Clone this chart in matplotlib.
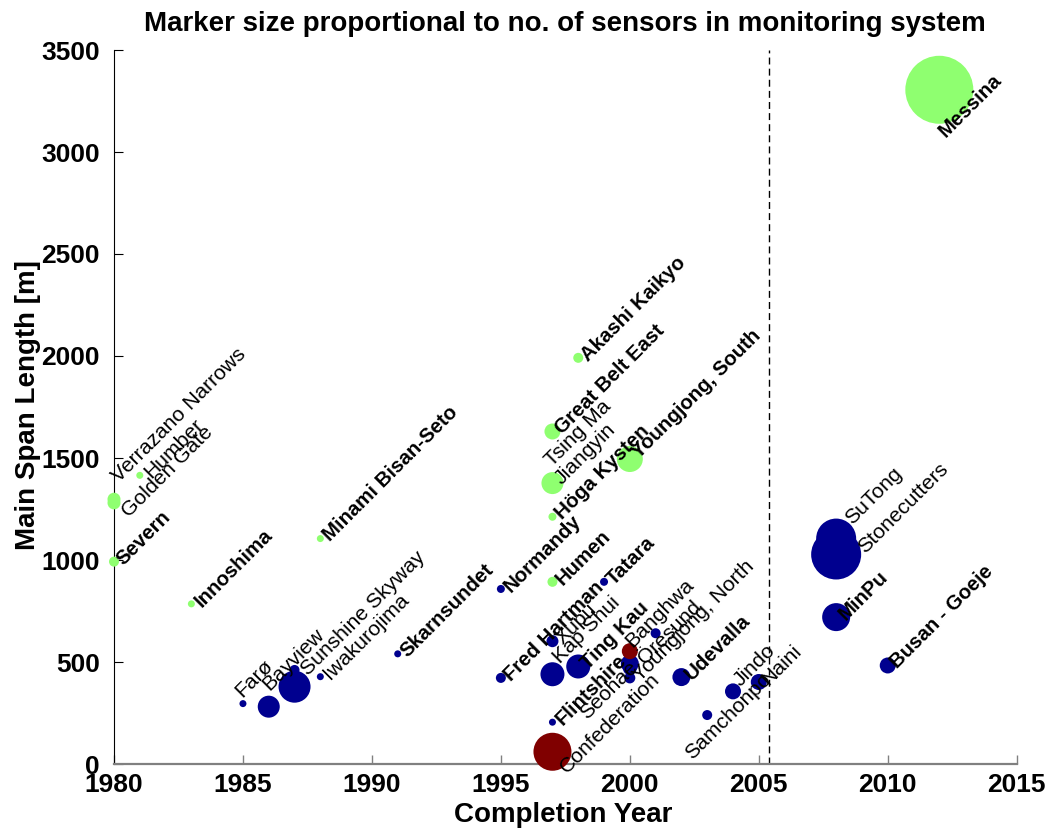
import numpy as np
import matplotlib
matplotlib.use("Agg")
import matplotlib.pyplot as plt

plt.rcParams['font.family'] = ['Liberation Sans', 'DejaVu Sans']

# ---------------- data ----------------
names = ["Verrazano Narrows", "Golden Gate", "Humber", "Severn", "Innoshima",
         "Minami Bisan-Seto", "Akashi Kaikyo", "Great Belt East", "Tsing Ma",
         "Jiangyin", "Höga Kysten", "Humen", "Youngjong, South", "Messina",
         "Farø", "Bayview", "Sunshine Skyway", "", "Iwakurojima", "Skarnsundet",
         "Normandy", "Fred Hartman", "Xupu", "Kap Shui", "Flintshire", "Ting Kau",
         "Tatara", "Öresund", "Seohae", "Youngjong, North", "", "Udevalla",
         "Samchonpo", "Jindo", "Naini", "SuTong", "Stonecutters", "MinPu",
         "Busan - Goeje",
         "Confederation", "Banghwa"]

years = [1980, 1980, 1981, 1980, 1983,
         1988, 1998, 1997, 1997,
         1997, 1997, 1997, 2000, 2012,
         1985, 1986, 1987, 1987, 1988, 1991,
         1995, 1995, 1997, 1997, 1997, 1998,
         1999, 2000, 2000, 2000, 2001, 2002,
         2003, 2004, 2005, 2008, 2008, 2008,
         2010,
         1997, 2000]

spans = [1298, 1280, 1415, 992, 785,
         1105, 1991, 1630, 1377,
         1385, 1212, 893, 1495, 3305,
         296, 281, 379, 461, 428, 540,
         858, 422, 602, 440, 205, 478,
         893, 492, 470, 422, 641, 426,
         240, 356, 402, 1105, 1027, 720,
         483,
         60, 553]

sensors = [260, 260, 140, 200, 140,
           140, 200, 320, 440,
           280, 160, 200, 520, 1360,
           140, 440, 640, 200, 140, 140,
           160, 200, 240, 480, 140, 480,
           160, 360, 280, 220, 200, 360,
           200, 320, 320, 800, 1000, 560,
           320,
           760, 320]

bridge_type = ["suspension"] * 14 + ["cable-stayed"] * 25 + ["other"] * 2

# ---------------- styling ----------------
type_colors = {"suspension": "#8FFF70", "cable-stayed": "#00008F", "other": "#800000"}
px_per_sensor = 0.05          # marker diameter in pixels per sensor
DPI = 100
LABEL_MARGIN = 6              # extra pixel gap before every label

bold_labels = {"Akashi Kaikyo", "Great Belt East", "Youngjong, South", "Höga Kysten",
               "Normandy", "Humen", "Tatara", "Minami Bisan-Seto", "Innoshima",
               "Skarnsundet", "Severn", "Fred Hartman", "Ting Kau", "Flintshire",
               "Udevalla", "MinPu", "Busan - Goeje", "Messina"}

# label anchor offsets in pixels (dx right, dy down) and alignment
label_layout = {
    "Verrazano Narrows": (-5, -20, "left"),
    "Golden Gate": (5, 11, "left"),
    "Tsing Ma": (-10, -20, "left"),
    "Farø": (-11, -10, "left"),
    "Bayview": (-9, -19, "left"),
    "Sunshine Skyway": (4, -14, "left"),
    "Kap Shui": (-2, -14, "left"),
    "Banghwa": (-7, -7, "left"),
    "Confederation": (5, 18, "left"),
    "Samchonpo": (-25, 41, "left"),
    "Jindo": (-2, -8, "left"),
    "SuTong": (6, -17, "left"),
    "Stonecutters": (19, -4, "left"),
    "Messina": (-4, 44, "left"),
    "Seohae": (5, -4, "right"),
    "Öresund": (5, -3, "left"),
    "Youngjong, South": (-1, -4, "left"),
    "Humber": (2, 0, "left"),
}

fig = plt.figure(figsize=(10.56, 8.32), dpi=DPI)
ax = fig.add_axes([114 / 1056, 1 - 764 / 832, (1016.7 - 114) / 1056, (764 - 50) / 832])

diam_pt = np.array(sensors) * px_per_sensor * 72.0 / DPI
colors = [type_colors[t] for t in bridge_type]
ax.scatter(years, spans, s=diam_pt ** 2, c=colors, linewidths=0, zorder=3, clip_on=False)

for name, x, y in zip(names, years, spans):
    if not name:
        continue
    dx, dy, ha = label_layout.get(name, (0, 0, "left"))
    dx += LABEL_MARGIN if ha == "left" else 0
    is_bold = name in bold_labels
    ax.annotate(name, (x, y), xytext=(dx, -dy), textcoords="offset pixels",
                rotation=45, rotation_mode="anchor", ha=ha, va="center",
                fontsize=14.7 if is_bold else 15.2,
                fontweight="bold" if is_bold else "normal",
                color="black", zorder=5, annotation_clip=False)

ax.axvline(2005.4, color="black", lw=1.0, dashes=(5, 3), zorder=2)

ax.set_xlim(1980, 2015)
ax.set_ylim(0, 3500)
ax.set_xticks(np.arange(1980, 2016, 5))
ax.set_yticks(np.arange(0, 3501, 500))

for s in ("top", "right"):
    ax.spines[s].set_visible(False)
ax.spines["left"].set_color("black")
ax.spines["left"].set_linewidth(0.8)
ax.spines["bottom"].set_color("#808080")
ax.spines["bottom"].set_linewidth(1.6)

ax.tick_params(axis="x", direction="in", length=6.5, width=1.0, color="#808080",
               pad=6.5, labelsize=19)
ax.tick_params(axis="y", direction="in", length=6.5, width=0.8, color="black",
               pad=10, labelsize=19)
for lab in ax.get_xticklabels() + ax.get_yticklabels():
    lab.set_fontweight("bold")

ax.set_title("Marker size proportional to no. of sensors in monitoring system",
             fontsize=20, fontweight="bold", pad=14)
fig.text(563.5 / 1056, 1 - 815 / 832, "Completion Year", ha="center", va="center",
         fontsize=20, fontweight="bold")
fig.text(28 / 1056, 1 - 405 / 832, "Main Span Length [m]", ha="center", va="center",
         rotation=90, fontsize=20, fontweight="bold")

fig.savefig("out.png", dpi=DPI)
